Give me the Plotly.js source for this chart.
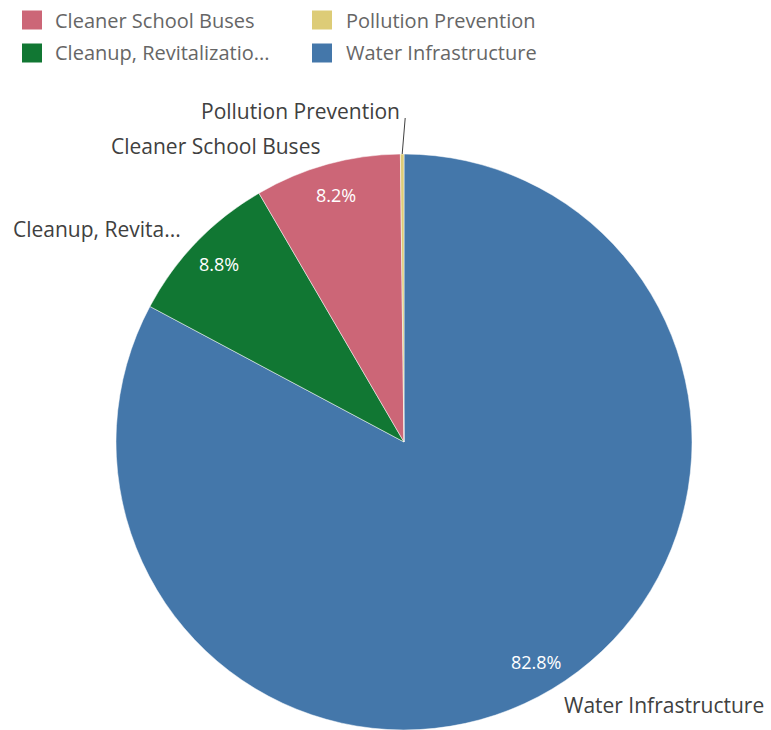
<!DOCTYPE html>
<html><head><meta charset="utf-8">
<script src="https://cdn.plot.ly/plotly-3.0.1.min.js"></script>
<style>body{margin:0;background:#fff}#chart{width:771px;height:730px}</style>
</head><body><div id="chart"></div>
<script>
// Data (drawing order: clockwise from 12 o'clock)
const categories = ["Water Infrastructure", "Cleanup, Revitalization, and Brownfields", "Cleaner School Buses", "Pollution Prevention"];
const sliceLabels = ["Water Infrastructure", "Cleanup, Revita...", "Cleaner School Buses", "Pollution Prevention"];
const values = [82.8, 8.8, 8.2, 0.2];
const colors = ["#4477aa", "#117733", "#cc6677", "#ddcc77"];
// Legend (reading order)
const legendNames = ["Cleaner School Buses", "Pollution Prevention", "Cleanup, Revitalizatio...", "Water Infrastructure"];
const legendColors = ["#cc6677", "#ddcc77", "#117733", "#4477aa"];

const W = 771, H = 730;
const M = {l: 116, r: 79, t: 154, b: 0};
const PW = W - M.l - M.r, PH = H - M.t - M.b;
const R = Math.min(PW, PH) / 2;
const cx = M.l + PW / 2, cy = M.t + PH / 2;
const toPX = px => (px - M.l) / PW;
const toPY = py => (H - M.b - py) / PH;
const FONT = "'Open Sans', sans-serif";

const total = values.reduce((a, b) => a + b, 0);
const annotations = [];
const shapes = [];
let cum = 0;
values.forEach((v, i) => {
  const mid = (cum + v / 2) / total * 2 * Math.PI; // clockwise from top
  cum += v;
  const sx = Math.sin(mid), sy = -Math.cos(mid);
  const pct = (v / total * 100).toFixed(1) + "%";
  if (v / total > 0.02) {
    const rp = 0.89 * R;
    annotations.push({xref: "paper", yref: "paper", x: toPX(cx + rp * sx), y: toPY(cy + rp * sy),
      text: pct, showarrow: false, xanchor: "center", yanchor: "middle",
      font: {family: FONT, size: 18, color: "#ffffff"}});
    const rl = 1.065 * R;
    annotations.push({xref: "paper", yref: "paper", x: toPX(cx + rl * sx), y: toPY(cy + rl * sy),
      text: sliceLabels[i], showarrow: false, xanchor: sx >= 0 ? "left" : "right", yanchor: "middle",
      font: {family: FONT, size: 21, color: "#404040"}});
  } else {
    // tiny slice: leader line upward to a label
    const ex = cx + R * sx, ey = cy + R * sy;
    const lx = ex + 3, ly = ey - 36;
    shapes.push({type: "line", xref: "paper", yref: "paper", x0: toPX(ex), y0: toPY(ey), x1: toPX(lx), y1: toPY(ly),
      line: {color: "#404040", width: 1}});
    annotations.push({xref: "paper", yref: "paper", x: toPX(lx - 3), y: toPY(ly - 7),
      text: sliceLabels[i], showarrow: false, xanchor: "right", yanchor: "middle",
      font: {family: FONT, size: 21, color: "#404040"}});
  }
});

// Manual legend
const legX = [22, 312], legTextX = [53, 344], legY = [20, 53];
legendNames.forEach((name, k) => {
  const col = k % 2, row = Math.floor(k / 2);
  const x0 = legX[col], y0 = legY[row];
  shapes.push({type: "rect", xref: "paper", yref: "paper",
    x0: toPX(x0), x1: toPX(x0 + 20), y0: toPY(y0 - 9.5), y1: toPY(y0 + 9.5),
    fillcolor: legendColors[k], line: {width: 0}});
  annotations.push({xref: "paper", yref: "paper", x: toPX(legTextX[col]), y: toPY(y0),
    text: name, showarrow: false, xanchor: "left", yanchor: "middle",
    font: {family: FONT, size: 20, color: "#666666"}});
});

const data = [{
  type: "pie",
  labels: categories,
  values: values,
  sort: false,
  direction: "clockwise",
  rotation: 0,
  textinfo: "none",
  hoverinfo: "label+percent",
  marker: {colors: colors, line: {color: "#ffffff", width: 0.5}},
  showlegend: false
}];

const layout = {
  width: W, height: H,
  margin: M,
  paper_bgcolor: "#ffffff",
  showlegend: false,
  annotations: annotations,
  shapes: shapes
};

Plotly.newPlot("chart", data, layout, {displayModeBar: false, staticPlot: true});
</script></body></html>
